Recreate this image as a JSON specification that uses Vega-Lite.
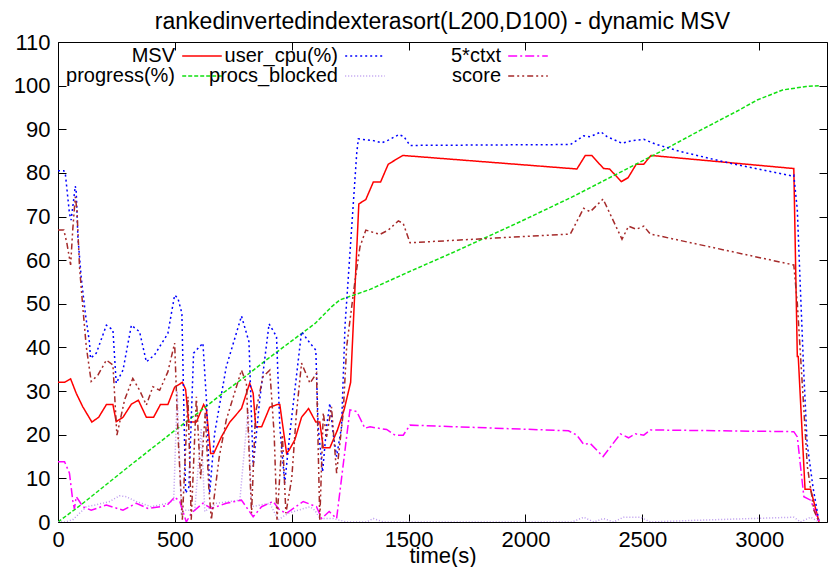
{
"$schema":"https://vega.github.io/schema/vega-lite/v6.json",
"width":769,"height":480,
"autosize":{"type":"none"},
"padding":{"left":58,"top":42,"right":1,"bottom":45},
"background":"white",
"title":{"text":"rankedinvertedindexterasort(L200,D100) - dynamic MSV","font":"Liberation Sans","fontSize":23,"fontWeight":"normal","color":"#000","anchor":"middle","offset":-3},
"config":{
 "view":{"stroke":"#000","strokeWidth":1},
 "axis":{"domain":false,"grid":false,"tickColor":"#000","tickWidth":1,"labelColor":"#000","labelFont":"Liberation Sans","labelFontSize":22,"titleFont":"Liberation Sans","titleFontSize":22,"titleFontWeight":"normal","titleColor":"#000"},
 "legend":{"orient":"none","legendX":134,"legendY":4,"columns":3,"gridAlign":"all","symbolType":"M-2.2,0H2.2","symbolSize":324,"symbolStrokeWidth":1.5,"labelFont":"Liberation Sans","labelFontSize":20,"labelColor":"#000","labelAlign":"right","labelOffset":-37,"rowPadding":-5,"columnPadding":-16,"padding":0}
},
"data":{"values":[
{"s":"MSV","t":0,"v":32},{"s":"MSV","t":28,"v":32},{"s":"MSV","t":54,"v":32.8},{"s":"MSV","t":78,"v":29.5},{"s":"MSV","t":106,"v":26.4},{"s":"MSV","t":145,"v":22.9},{"s":"MSV","t":174,"v":24},{"s":"MSV","t":207,"v":26.9},{"s":"MSV","t":235,"v":26.9},{"s":"MSV","t":249,"v":23},{"s":"MSV","t":278,"v":24},{"s":"MSV","t":314,"v":27},{"s":"MSV","t":344,"v":27.9},{"s":"MSV","t":378,"v":24},{"s":"MSV","t":409,"v":24},{"s":"MSV","t":438,"v":26.9},{"s":"MSV","t":470,"v":26.9},{"s":"MSV","t":499,"v":30.9},{"s":"MSV","t":532,"v":32},{"s":"MSV","t":546,"v":30.4},{"s":"MSV","t":559,"v":22.9},{"s":"MSV","t":592,"v":22.9},{"s":"MSV","t":623,"v":26.9},{"s":"MSV","t":635,"v":25.7},{"s":"MSV","t":653,"v":15.7},{"s":"MSV","t":666,"v":15.7},{"s":"MSV","t":699,"v":19.5},{"s":"MSV","t":735,"v":22.9},{"s":"MSV","t":785,"v":26},{"s":"MSV","t":820,"v":31.8},{"s":"MSV","t":835,"v":29.5},{"s":"MSV","t":846,"v":21.8},{"s":"MSV","t":871,"v":21.8},{"s":"MSV","t":906,"v":26.3},{"s":"MSV","t":937,"v":26.9},{"s":"MSV","t":949,"v":26.9},{"s":"MSV","t":978,"v":15.7},{"s":"MSV","t":989,"v":16.5},{"s":"MSV","t":1013,"v":18.8},{"s":"MSV","t":1042,"v":24},{"s":"MSV","t":1072,"v":26},{"s":"MSV","t":1103,"v":22.9},{"s":"MSV","t":1120,"v":22.9},{"s":"MSV","t":1135,"v":17},{"s":"MSV","t":1163,"v":17},{"s":"MSV","t":1195,"v":21},{"s":"MSV","t":1224,"v":25.7},{"s":"MSV","t":1252,"v":32},{"s":"MSV","t":1287,"v":72.9},{"s":"MSV","t":1317,"v":73.9},{"s":"MSV","t":1349,"v":77.9},{"s":"MSV","t":1380,"v":77.9},{"s":"MSV","t":1413,"v":82},{"s":"MSV","t":1475,"v":84},{"s":"MSV","t":2220,"v":80.9},{"s":"MSV","t":2256,"v":84},{"s":"MSV","t":2284,"v":84},{"s":"MSV","t":2334,"v":81},{"s":"MSV","t":2360,"v":80.9},{"s":"MSV","t":2410,"v":78},{"s":"MSV","t":2439,"v":78.9},{"s":"MSV","t":2474,"v":82},{"s":"MSV","t":2506,"v":82},{"s":"MSV","t":2537,"v":84},{"s":"MSV","t":3148,"v":81},{"s":"MSV","t":3163,"v":37.9},{"s":"MSV","t":3167,"v":37.9},{"s":"MSV","t":3196,"v":7.5},{"s":"MSV","t":3220,"v":7.5},{"s":"MSV","t":3256,"v":0},
{"s":"progress(%)","t":0,"v":0},{"s":"progress(%)","t":100,"v":4},{"s":"progress(%)","t":200,"v":8.3},{"s":"progress(%)","t":300,"v":12.6},{"s":"progress(%)","t":400,"v":16.8},{"s":"progress(%)","t":500,"v":21},{"s":"progress(%)","t":606,"v":25.3},{"s":"progress(%)","t":700,"v":29.3},{"s":"progress(%)","t":800,"v":33.3},{"s":"progress(%)","t":900,"v":37.5},{"s":"progress(%)","t":1000,"v":41.5},{"s":"progress(%)","t":1100,"v":45.5},{"s":"progress(%)","t":1170,"v":49.3},{"s":"progress(%)","t":1206,"v":50.9},{"s":"progress(%)","t":1335,"v":53.3},{"s":"progress(%)","t":1500,"v":57.3},{"s":"progress(%)","t":1700,"v":62},{"s":"progress(%)","t":1977,"v":68.8},{"s":"progress(%)","t":2200,"v":74.5},{"s":"progress(%)","t":2400,"v":80},{"s":"progress(%)","t":2600,"v":85.5},{"s":"progress(%)","t":2749,"v":89.8},{"s":"progress(%)","t":2900,"v":94},{"s":"progress(%)","t":2991,"v":96.7},{"s":"progress(%)","t":3100,"v":99},{"s":"progress(%)","t":3200,"v":99.8},{"s":"progress(%)","t":3256,"v":100},
{"s":"user_cpu(%)","t":0,"v":80.5},{"s":"user_cpu(%)","t":25,"v":80.5},{"s":"user_cpu(%)","t":32,"v":79.5},{"s":"user_cpu(%)","t":49,"v":70.7},{"s":"user_cpu(%)","t":56,"v":69.2},{"s":"user_cpu(%)","t":66,"v":73.4},{"s":"user_cpu(%)","t":74,"v":77},{"s":"user_cpu(%)","t":78,"v":75.7},{"s":"user_cpu(%)","t":85,"v":65.4},{"s":"user_cpu(%)","t":99,"v":56.2},{"s":"user_cpu(%)","t":117,"v":47.8},{"s":"user_cpu(%)","t":135,"v":41},{"s":"user_cpu(%)","t":139,"v":37.5},{"s":"user_cpu(%)","t":164,"v":38.7},{"s":"user_cpu(%)","t":207,"v":45.1},{"s":"user_cpu(%)","t":235,"v":44},{"s":"user_cpu(%)","t":249,"v":31.8},{"s":"user_cpu(%)","t":278,"v":34.8},{"s":"user_cpu(%)","t":314,"v":45.1},{"s":"user_cpu(%)","t":349,"v":43.6},{"s":"user_cpu(%)","t":378,"v":36.7},{"s":"user_cpu(%)","t":413,"v":38.3},{"s":"user_cpu(%)","t":470,"v":43.2},{"s":"user_cpu(%)","t":499,"v":52},{"s":"user_cpu(%)","t":513,"v":51.3},{"s":"user_cpu(%)","t":530,"v":47.8},{"s":"user_cpu(%)","t":546,"v":6.6},{"s":"user_cpu(%)","t":560,"v":8},{"s":"user_cpu(%)","t":580,"v":38.7},{"s":"user_cpu(%)","t":620,"v":41},{"s":"user_cpu(%)","t":635,"v":28},{"s":"user_cpu(%)","t":649,"v":6.6},{"s":"user_cpu(%)","t":670,"v":20.3},{"s":"user_cpu(%)","t":720,"v":35.6},{"s":"user_cpu(%)","t":785,"v":47.2},{"s":"user_cpu(%)","t":817,"v":41.3},{"s":"user_cpu(%)","t":835,"v":12.7},{"s":"user_cpu(%)","t":863,"v":28},{"s":"user_cpu(%)","t":903,"v":45.4},{"s":"user_cpu(%)","t":935,"v":42.5},{"s":"user_cpu(%)","t":949,"v":21.8},{"s":"user_cpu(%)","t":970,"v":8.9},{"s":"user_cpu(%)","t":992,"v":20.3},{"s":"user_cpu(%)","t":1042,"v":43.6},{"s":"user_cpu(%)","t":1078,"v":41},{"s":"user_cpu(%)","t":1103,"v":39.4},{"s":"user_cpu(%)","t":1113,"v":21.8},{"s":"user_cpu(%)","t":1132,"v":11.5},{"s":"user_cpu(%)","t":1149,"v":21.8},{"s":"user_cpu(%)","t":1163,"v":27.2},{"s":"user_cpu(%)","t":1177,"v":20.3},{"s":"user_cpu(%)","t":1192,"v":15},{"s":"user_cpu(%)","t":1213,"v":21.8},{"s":"user_cpu(%)","t":1228,"v":45},{"s":"user_cpu(%)","t":1249,"v":61.6},{"s":"user_cpu(%)","t":1278,"v":84.5},{"s":"user_cpu(%)","t":1285,"v":87.8},{"s":"user_cpu(%)","t":1349,"v":87.4},{"s":"user_cpu(%)","t":1385,"v":86.9},{"s":"user_cpu(%)","t":1413,"v":87.5},{"s":"user_cpu(%)","t":1459,"v":88.8},{"s":"user_cpu(%)","t":1480,"v":88.3},{"s":"user_cpu(%)","t":1506,"v":86.3},{"s":"user_cpu(%)","t":2192,"v":86.5},{"s":"user_cpu(%)","t":2249,"v":88.5},{"s":"user_cpu(%)","t":2277,"v":88.3},{"s":"user_cpu(%)","t":2323,"v":89.4},{"s":"user_cpu(%)","t":2349,"v":88.3},{"s":"user_cpu(%)","t":2413,"v":86.8},{"s":"user_cpu(%)","t":2456,"v":87.4},{"s":"user_cpu(%)","t":2506,"v":87.7},{"s":"user_cpu(%)","t":2556,"v":86.6},{"s":"user_cpu(%)","t":2663,"v":84.9},{"s":"user_cpu(%)","t":2877,"v":82.2},{"s":"user_cpu(%)","t":3141,"v":79.3},{"s":"user_cpu(%)","t":3148,"v":79.5},{"s":"user_cpu(%)","t":3163,"v":71.5},{"s":"user_cpu(%)","t":3175,"v":55},{"s":"user_cpu(%)","t":3190,"v":35},{"s":"user_cpu(%)","t":3205,"v":18},{"s":"user_cpu(%)","t":3230,"v":8},{"s":"user_cpu(%)","t":3256,"v":0},
{"s":"procs_blocked","t":0,"v":0},{"s":"procs_blocked","t":28,"v":0},{"s":"procs_blocked","t":63,"v":0.5},{"s":"procs_blocked","t":92,"v":2},{"s":"procs_blocked","t":121,"v":3.5},{"s":"procs_blocked","t":160,"v":3.9},{"s":"procs_blocked","t":221,"v":4.7},{"s":"procs_blocked","t":263,"v":6},{"s":"procs_blocked","t":292,"v":5.8},{"s":"procs_blocked","t":335,"v":4.7},{"s":"procs_blocked","t":399,"v":3.5},{"s":"procs_blocked","t":470,"v":4.3},{"s":"procs_blocked","t":495,"v":5},{"s":"procs_blocked","t":510,"v":30},{"s":"procs_blocked","t":528,"v":2},{"s":"procs_blocked","t":542,"v":2.7},{"s":"procs_blocked","t":585,"v":2.7},{"s":"procs_blocked","t":613,"v":21.5},{"s":"procs_blocked","t":628,"v":2.4},{"s":"procs_blocked","t":678,"v":4.3},{"s":"procs_blocked","t":778,"v":5},{"s":"procs_blocked","t":813,"v":25.7},{"s":"procs_blocked","t":828,"v":3.5},{"s":"procs_blocked","t":906,"v":4.3},{"s":"procs_blocked","t":942,"v":0.5},{"s":"procs_blocked","t":985,"v":2},{"s":"procs_blocked","t":1027,"v":2.7},{"s":"procs_blocked","t":1078,"v":3.5},{"s":"procs_blocked","t":1099,"v":2.7},{"s":"procs_blocked","t":1120,"v":0.8},{"s":"procs_blocked","t":1177,"v":0.8},{"s":"procs_blocked","t":1235,"v":0},{"s":"procs_blocked","t":1320,"v":0},{"s":"procs_blocked","t":1349,"v":0.8},{"s":"procs_blocked","t":1392,"v":0},{"s":"procs_blocked","t":2200,"v":0},{"s":"procs_blocked","t":2249,"v":1.1},{"s":"procs_blocked","t":2292,"v":0},{"s":"procs_blocked","t":2334,"v":0.8},{"s":"procs_blocked","t":2377,"v":0},{"s":"procs_blocked","t":2420,"v":1.1},{"s":"procs_blocked","t":2492,"v":1.1},{"s":"procs_blocked","t":2534,"v":0},{"s":"procs_blocked","t":2735,"v":0.4},{"s":"procs_blocked","t":3148,"v":1.1},{"s":"procs_blocked","t":3177,"v":0},{"s":"procs_blocked","t":3220,"v":1.1},{"s":"procs_blocked","t":3256,"v":0},
{"s":"5*ctxt","t":0,"v":13.8},{"s":"5*ctxt","t":28,"v":13.8},{"s":"5*ctxt","t":49,"v":11.2},{"s":"5*ctxt","t":63,"v":5},{"s":"5*ctxt","t":70,"v":3},{"s":"5*ctxt","t":78,"v":5.8},{"s":"5*ctxt","t":92,"v":4.7},{"s":"5*ctxt","t":106,"v":3.5},{"s":"5*ctxt","t":142,"v":2.7},{"s":"5*ctxt","t":207,"v":3.9},{"s":"5*ctxt","t":278,"v":2.7},{"s":"5*ctxt","t":335,"v":4.3},{"s":"5*ctxt","t":385,"v":3.1},{"s":"5*ctxt","t":464,"v":3.7},{"s":"5*ctxt","t":499,"v":5.7},{"s":"5*ctxt","t":521,"v":4.7},{"s":"5*ctxt","t":549,"v":0},{"s":"5*ctxt","t":570,"v":2},{"s":"5*ctxt","t":620,"v":4.3},{"s":"5*ctxt","t":656,"v":3.1},{"s":"5*ctxt","t":720,"v":4.3},{"s":"5*ctxt","t":785,"v":5},{"s":"5*ctxt","t":835,"v":1.2},{"s":"5*ctxt","t":871,"v":3.5},{"s":"5*ctxt","t":920,"v":4.7},{"s":"5*ctxt","t":949,"v":2.7},{"s":"5*ctxt","t":978,"v":2},{"s":"5*ctxt","t":1049,"v":4.7},{"s":"5*ctxt","t":1106,"v":3.5},{"s":"5*ctxt","t":1128,"v":0.8},{"s":"5*ctxt","t":1160,"v":2.4},{"s":"5*ctxt","t":1192,"v":0.8},{"s":"5*ctxt","t":1249,"v":25.7},{"s":"5*ctxt","t":1278,"v":25.3},{"s":"5*ctxt","t":1313,"v":21.5},{"s":"5*ctxt","t":1335,"v":21.8},{"s":"5*ctxt","t":1406,"v":21.2},{"s":"5*ctxt","t":1442,"v":19.9},{"s":"5*ctxt","t":1477,"v":19.9},{"s":"5*ctxt","t":1506,"v":22.2},{"s":"5*ctxt","t":2184,"v":20.9},{"s":"5*ctxt","t":2220,"v":19.9},{"s":"5*ctxt","t":2249,"v":17.8},{"s":"5*ctxt","t":2277,"v":18},{"s":"5*ctxt","t":2332,"v":15},{"s":"5*ctxt","t":2406,"v":20.2},{"s":"5*ctxt","t":2441,"v":19.3},{"s":"5*ctxt","t":2470,"v":20.2},{"s":"5*ctxt","t":2506,"v":19.9},{"s":"5*ctxt","t":2534,"v":21.1},{"s":"5*ctxt","t":3148,"v":20.7},{"s":"5*ctxt","t":3163,"v":19.5},{"s":"5*ctxt","t":3191,"v":5.8},{"s":"5*ctxt","t":3220,"v":5},{"s":"5*ctxt","t":3256,"v":0},
{"s":"score","t":0,"v":66.9},{"s":"score","t":25,"v":66.9},{"s":"score","t":38,"v":63.9},{"s":"score","t":54,"v":58.9},{"s":"score","t":63,"v":66.9},{"s":"score","t":74,"v":74.5},{"s":"score","t":81,"v":71.5},{"s":"score","t":92,"v":58.5},{"s":"score","t":106,"v":49.3},{"s":"score","t":121,"v":40.2},{"s":"score","t":142,"v":32.2},{"s":"score","t":171,"v":33.7},{"s":"score","t":207,"v":37.1},{"s":"score","t":235,"v":36},{"s":"score","t":252,"v":19.9},{"s":"score","t":285,"v":28},{"s":"score","t":320,"v":32.9},{"s":"score","t":349,"v":30.2},{"s":"score","t":378,"v":26.8},{"s":"score","t":406,"v":31},{"s":"score","t":435,"v":30.2},{"s":"score","t":470,"v":34.4},{"s":"score","t":499,"v":41},{"s":"score","t":513,"v":20.3},{"s":"score","t":532,"v":0.5},{"s":"score","t":556,"v":28.7},{"s":"score","t":570,"v":0.5},{"s":"score","t":592,"v":28.7},{"s":"score","t":610,"v":10},{"s":"score","t":630,"v":25},{"s":"score","t":645,"v":8},{"s":"score","t":656,"v":0.5},{"s":"score","t":690,"v":15},{"s":"score","t":720,"v":23.4},{"s":"score","t":785,"v":34.8},{"s":"score","t":806,"v":31.8},{"s":"score","t":828,"v":2},{"s":"score","t":845,"v":25},{"s":"score","t":877,"v":33.3},{"s":"score","t":906,"v":34.8},{"s":"score","t":925,"v":20},{"s":"score","t":937,"v":0.5},{"s":"score","t":960,"v":20},{"s":"score","t":975,"v":2},{"s":"score","t":1000,"v":10},{"s":"score","t":1020,"v":24.9},{"s":"score","t":1042,"v":36.4},{"s":"score","t":1078,"v":31.8},{"s":"score","t":1106,"v":34.1},{"s":"score","t":1120,"v":0.5},{"s":"score","t":1135,"v":25},{"s":"score","t":1149,"v":19.5},{"s":"score","t":1170,"v":26.4},{"s":"score","t":1192,"v":11.2},{"s":"score","t":1220,"v":24.9},{"s":"score","t":1235,"v":40.2},{"s":"score","t":1270,"v":55},{"s":"score","t":1292,"v":63.1},{"s":"score","t":1317,"v":66.9},{"s":"score","t":1377,"v":65.9},{"s":"score","t":1413,"v":66.9},{"s":"score","t":1456,"v":69},{"s":"score","t":1477,"v":68.4},{"s":"score","t":1506,"v":64},{"s":"score","t":2192,"v":66},{"s":"score","t":2249,"v":71.9},{"s":"score","t":2277,"v":71.1},{"s":"score","t":2332,"v":74},{"s":"score","t":2413,"v":64.8},{"s":"score","t":2441,"v":67.8},{"s":"score","t":2474,"v":67.1},{"s":"score","t":2506,"v":67.8},{"s":"score","t":2534,"v":66},{"s":"score","t":3148,"v":58.9},{"s":"score","t":3163,"v":50.1},{"s":"score","t":3184,"v":31.8},{"s":"score","t":3206,"v":12.7},{"s":"score","t":3234,"v":2.7},{"s":"score","t":3256,"v":0}
]},
"layer":[
 {"mark":{"type":"line","strokeWidth":1.5,"clip":true},
  "encoding":{
   "x":{"field":"t","type":"quantitative","scale":{"domain":[0,3290],"nice":false,"zero":false},"axis":{"orient":"bottom","values":[0,500,1000,1500,2000,2500,3000],"format":"d","tickSize":-8,"labelPadding":15,"labelFlush":false,"title":"time(s)","titlePadding":-5}},
   "y":{"field":"v","type":"quantitative","scale":{"domain":[0,110],"nice":false},"axis":{"orient":"left","values":[0,10,20,30,40,50,60,70,80,90,100,110],"tickSize":-8,"labelPadding":16,"title":null}},
   "color":{"field":"s","type":"nominal","scale":{"domain":["MSV","progress(%)","user_cpu(%)","procs_blocked","5*ctxt","score"],"range":["#ff0000","#11e011","#0000ff","#bb99ee","#ff00ff","#a52a2a"]},"legend":{"title":null,"symbolType":"M-2.2,0H2.2","symbolSize":324,"rowPadding":-5,"columnPadding":-16,"gridAlign":"all"}},
   "strokeDash":{"field":"s","type":"nominal","scale":{"domain":["MSV","progress(%)","user_cpu(%)","procs_blocked","5*ctxt","score"],"range":[[1,0],[4,2],[2,3],[1,2],[9,3,2,3],[6,3,2,3,2,3]]},"legend":{"title":null,"symbolType":"M-2.2,0H2.2","symbolSize":324,"rowPadding":-5,"columnPadding":-16,"gridAlign":"all"}},
   "order":{"field":"t","type":"quantitative"}
  }},
 {"mark":{"type":"line","opacity":0},
  "encoding":{
   "x":{"field":"t","type":"quantitative","axis":{"orient":"top","values":[0,500,1000,1500,2000,2500,3000],"tickSize":-8,"labels":false,"title":null}},
   "y":{"field":"v","type":"quantitative","axis":{"orient":"right","values":[0,10,20,30,40,50,60,70,80,90,100,110],"tickSize":-8,"labels":false,"title":null}},
   "detail":{"field":"s","type":"nominal"}
  }}
],
"resolve":{"axis":{"x":"independent","y":"independent"}}
}
